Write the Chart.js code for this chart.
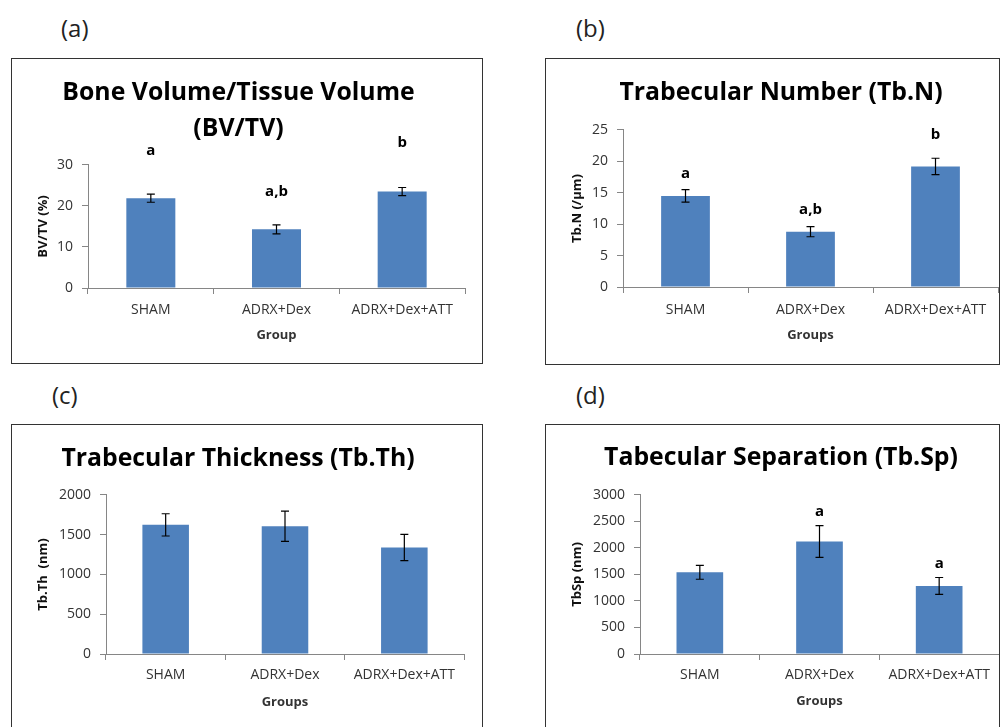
<!DOCTYPE html>
<html>
<head>
<meta charset="utf-8">
<script src="https://cdn.jsdelivr.net/npm/chart.js@4.4.0/dist/chart.umd.min.js"></script>
<style>
  html, body { margin: 0; padding: 0; background: #fff; }
  body { width: 1004px; height: 727px; overflow: hidden; position: relative; font-family: 'Open Sans', sans-serif; }
  .box { position: absolute; border: 1px solid #333; background: #fff; }
  .box canvas { position: absolute; left: 0; top: 0; }
  .lbl { position: absolute; font-size: 24px; line-height: 24px; color: #222; }
</style>
</head>
<body>
<div class="lbl" style="left:61px;top:16px">(a)</div>
<div class="lbl" style="left:576px;top:16px">(b)</div>
<div class="lbl" style="left:52px;top:383px">(c)</div>
<div class="lbl" style="left:576px;top:383px">(d)</div>

<div class="box" style="left:11px;top:58px;width:470px;height:304px"><canvas id="chartA" width="470" height="304"></canvas></div>
<div class="box" style="left:545px;top:58px;width:453px;height:305px"><canvas id="chartB" width="453" height="305"></canvas></div>
<div class="box" style="left:11px;top:424px;width:470px;height:320px"><canvas id="chartC" width="470" height="302"></canvas></div>
<div class="box" style="left:545px;top:424px;width:453px;height:320px"><canvas id="chartD" width="453" height="302"></canvas></div>

<script>
// groups on the x axis
let groups = ['SHAM', 'ADRX+Dex', 'ADRX+Dex+ATT'];

// (a) BV/TV
let bvtv = [21.9, 14.3, 23.5];
let bvtvErr = [1.0, 1.1, 1.0];
let bvtvSig = ['a', 'a,b', 'b'];
let bvtvSigAt = [33.4, 23.4, 35.4];

// (b) Tb.N
let tbn = [14.5, 8.8, 19.2];
let tbnErr = [1.0, 0.8, 1.3];
let tbnSig = ['a', 'a,b', 'b'];
let tbnSigAt = [18.0, 12.3, 24.2];

// (c) Tb.Th
let tbth = [1624, 1607, 1340];
let tbthErr = [140, 190, 165];

// (d) Tb.Sp
let tbsp = [1540, 2123, 1283];
let tbspErr = [130, 300, 160];
let tbspSig = ['', 'a', 'a'];
let tbspSigAt = [0, 2692, 1704];

Chart.defaults.font.family = "'Open Sans', sans-serif";
Chart.defaults.color = '#333';

// error bars + significance letters
var extras = {
    id: 'extras',
    afterDraw(chart, args, opts) {
        let ctx = chart.ctx;
        let meta = chart.getDatasetMeta(0);
        let y = chart.scales.y;
        let vals = chart.data.datasets[0].data;
        ctx.save();
        ctx.strokeStyle = '#000';
        ctx.lineWidth = 1.2;
        meta.data.forEach((bar, i) => {
            let e = opts.err[i];
            let top = y.getPixelForValue(vals[i] + e);
            let bot = y.getPixelForValue(vals[i] - e);
            ctx.beginPath();
            ctx.moveTo(bar.x, top); ctx.lineTo(bar.x, bot);
            ctx.moveTo(bar.x - 4, top); ctx.lineTo(bar.x + 4, top);
            ctx.moveTo(bar.x - 4, bot); ctx.lineTo(bar.x + 4, bot);
            ctx.stroke();
        });
        if (opts.sig) {
            ctx.fillStyle = '#000';
            ctx.font = "bold 15px 'Open Sans', sans-serif";
            ctx.textAlign = 'center';
            ctx.textBaseline = 'middle';
            meta.data.forEach((bar, i) => {
                if (opts.sig[i]) ctx.fillText(opts.sig[i], bar.x, y.getPixelForValue(opts.sigAt[i]));
            });
        }
        ctx.restore();
    }
};

function drawchart(id, p) {
    return new Chart(document.getElementById(id), {
        type: 'bar',
        data: {
            labels: groups,
            datasets: [{
                data: p.data,
                backgroundColor: '#4F81BD',
                borderWidth: 0,
                categoryPercentage: 1.0,
                barPercentage: 0.39
            }]
        },
        plugins: [extras],
        options: {
            responsive: false,
            animation: false,
            layout: {
                padding: { left: p.padL, right: p.padR, top: 0, bottom: 0 }
            },
            scales: {
                x: {
                    afterFit: s => { s.height = p.xH },
                    border: { color: '#868686', width: 1 },
                    grid: { drawOnChartArea: false, tickLength: 6, color: '#868686' },
                    ticks: { font: { size: 14 }, padding: p.xPad, color: '#333' },
                    title: {
                        display: true, text: p.xTitle, color: '#333',
                        font: { size: 13, weight: 'bold' },
                        padding: { top: 0, bottom: p.xtPad }
                    }
                },
                y: {
                    min: 0,
                    max: p.max,
                    afterFit: s => { s.width = p.yW },
                    border: { color: '#868686', width: 1 },
                    grid: { drawOnChartArea: false, tickLength: 6, color: '#868686' },
                    ticks: {
                        stepSize: p.step, font: { size: 14 }, padding: 9, color: '#333',
                        callback: v => String(v)
                    },
                    title: {
                        display: true, text: p.yTitle, color: '#111',
                        font: { size: 13, weight: 'bold' },
                        padding: { top: p.ytPad, bottom: 0 }
                    }
                }
            },
            plugins: {
                legend: { display: false },
                tooltip: { enabled: false },
                title: {
                    display: true,
                    text: p.title,
                    color: '#000',
                    font: { size: 24.8, weight: 'bold', lineHeight: p.tLH },
                    padding: { top: p.tTop, bottom: p.tBot }
                },
                extras: { err: p.err, sig: p.sig, sigAt: p.sigAt }
            }
        }
    });
}

var chartA = drawchart('chartA', {
    data: bvtv, err: bvtvErr, sig: bvtvSig, sigAt: bvtvSigAt,
    title: ['Bone Volume/Tissue Volume', '(BV/TV)'], tLH: 1.45, tTop: 16, tBot: 18,
    max: 30, step: 10, yTitle: 'BV/TV (%)', xTitle: 'Group',
    padL: 0, padR: 17, yW: 76, ytPad: 23, xH: 75, xPad: 8, xtPad: 20
});

var chartB = drawchart('chartB', {
    data: tbn, err: tbnErr, sig: tbnSig, sigAt: tbnSigAt,
    title: 'Trabecular Number (Tb.N)', tLH: 1.2, tTop: 18.6, tBot: 22.6,
    max: 25, step: 5, yTitle: 'Tb.N (/µm)', xTitle: 'Groups',
    padL: 18, padR: 1, yW: 59, ytPad: 5, xH: 77, xPad: 8.6, xtPad: 21
});

var chartC = drawchart('chartC', {
    data: tbth, err: tbthErr,
    title: 'Trabecular Thickness (Tb.Th)', tLH: 1.2, tTop: 18.6, tBot: 21.6,
    max: 2000, step: 500, yTitle: 'Tb.Th  (nm)', xTitle: 'Groups',
    padL: 0, padR: 18, yW: 94, ytPad: 23, xH: 73, xPad: 6.6, xtPad: 17
});

var chartD = drawchart('chartD', {
    data: tbsp, err: tbspErr, sig: tbspSig, sigAt: tbspSigAt,
    title: 'Tabecular Separation (Tb.Sp)', tLH: 1.2, tTop: 17.6, tBot: 22.6,
    max: 3000, step: 500, yTitle: 'TbSp (nm)', xTitle: 'Groups',
    padL: 17, padR: 0, yW: 77, ytPad: 6, xH: 73, xPad: 6.6, xtPad: 17.5
});
</script>
</body>
</html>
